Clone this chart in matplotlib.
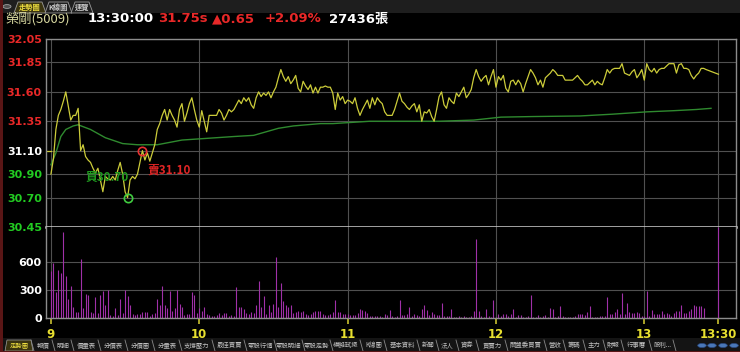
import matplotlib
matplotlib.use("Agg")
import matplotlib.pyplot as plt
import numpy as np
from matplotlib.patches import Rectangle, Circle, Polygon

# ---------------- data ----------------
stock_name = "榮剛(5009)"
quote_time = "13:30:00"
last_price = 31.75
change = 0.65
change_pct = 2.09
total_volume = 27436
prev_close = 31.10

price_ticks = [32.05, 31.85, 31.60, 31.35, 31.10, 30.90, 30.70, 30.45]
volume_ticks = [0, 300, 600]
hour_minutes = [0, 60, 120, 180, 240, 270]
hour_labels = ["9", "10", "11", "12", "13", "13:30"]

# one price per minute from 09:00 (minutes after the open)
prices_0900 = [30.90, 31.03, 31.28, 31.40, 31.45, 31.52, 31.60, 31.48, 31.36, 31.40,
               31.40, 31.46, 31.10, 31.15, 31.05, 31.02, 31.00, 30.95, 30.91, 30.95,
               30.85, 30.75, 30.88, 30.86, 30.85, 30.88, 30.85, 30.93, 31.00, 30.90,
               30.75, 30.70, 30.85, 30.88, 30.86, 30.90, 31.00, 31.10, 31.02, 31.08,
               31.01, 31.08, 31.15, 31.28, 31.33, 31.40, 31.45, 31.36, 31.45, 31.40,
               31.36, 31.30, 31.45, 31.50, 31.35, 31.42, 31.50, 31.55, 31.45, 31.36]
prices_1000 = [31.30, 31.44, 31.35, 31.26, 31.40, 31.40, 31.40, 31.40, 31.45, 31.42,
               31.36, 31.40, 31.45, 31.43, 31.45, 31.49, 31.53, 31.50, 31.55, 31.52,
               31.55, 31.49, 31.46, 31.55, 31.60, 31.56, 31.59, 31.57, 31.60, 31.55,
               31.60, 31.64, 31.72, 31.79, 31.73, 31.69, 31.73, 31.67, 31.70, 31.74,
               31.63, 31.60, 31.69, 31.65, 31.62, 31.66, 31.59, 31.64, 31.59, 31.64,
               31.64, 31.65, 31.64, 31.64, 31.59, 31.45, 31.59, 31.53, 31.56, 31.50]
prices_1100 = [31.53, 31.52, 31.50, 31.55, 31.46, 31.40, 31.45, 31.49, 31.53, 31.46,
               31.55, 31.49, 31.55, 31.52, 31.50, 31.43, 31.40, 31.40, 31.40, 31.45,
               31.52, 31.59, 31.52, 31.50, 31.47, 31.45, 31.48, 31.50, 31.43, 31.49,
               31.35, 31.43, 31.42, 31.45, 31.39, 31.35, 31.45, 31.56, 31.60, 31.49,
               31.46, 31.55, 31.52, 31.50, 31.59, 31.56, 31.60, 31.64, 31.55, 31.58,
               31.62, 31.72, 31.79, 31.73, 31.69, 31.72, 31.74, 31.66, 31.73, 31.79]
prices_1200 = [31.64, 31.73, 31.70, 31.74, 31.63, 31.60, 31.69, 31.70, 31.66, 31.70,
               31.67, 31.60, 31.67, 31.73, 31.79, 31.76, 31.72, 31.66, 31.70, 31.64,
               31.72, 31.74, 31.76, 31.79, 31.77, 31.74, 31.74, 31.74, 31.70, 31.70,
               31.70, 31.70, 31.72, 31.74, 31.71, 31.69, 31.66, 31.66, 31.68, 31.70,
               31.66, 31.69, 31.67, 31.66, 31.72, 31.79, 31.76, 31.79, 31.80, 31.80,
               31.80, 31.84, 31.76, 31.75, 31.74, 31.77, 31.79, 31.72, 31.75, 31.79]
prices_1300 = [31.70, 31.84, 31.79, 31.77, 31.80, 31.76, 31.79, 31.80, 31.80, 31.82,
               31.84, 31.84, 31.84, 31.76, 31.83, 31.84, 31.80, 31.80, 31.79, 31.74,
               31.71, 31.74, 31.76, 31.80, 31.80, 31.79]
close_minute = 270

# average-price line (minute, price)
avg_minutes = [0, 2, 4, 6, 9, 11, 16, 22, 29, 35, 43, 53, 60, 74, 82, 92, 98, 109,
               114, 129, 157, 171, 182, 195, 214, 227, 241, 252, 261, 267]
avg_prices = [30.98, 31.08, 31.22, 31.28, 31.31, 31.32, 31.28, 31.21, 31.16, 31.15,
              31.15, 31.19, 31.20, 31.22, 31.23, 31.29, 31.31, 31.33, 31.33, 31.35,
              31.35, 31.36, 31.385, 31.39, 31.395, 31.41, 31.43, 31.44, 31.45, 31.46]

# one volume per minute from 09:00
volumes_0900 = [510, 590, 280, 520, 490, 930, 455, 210, 340, 120, 60, 60, 635, 105, 260,
                250, 60, 55, 225, 55, 250, 295, 135, 300, 30, 20, 105, 30, 210, 50,
                300, 240, 135, 40, 30, 40, 40, 70, 70, 60, 25, 40, 50, 205, 145,
                340, 145, 105, 295, 80]
volumes_0950 = [105, 305, 150, 115, 30, 40, 45, 275, 245, 55, 105, 80, 115, 45, 30,
                25, 25, 30, 55, 30, 55, 55, 25, 30, 25, 330, 115, 115, 100, 55,
                45, 65, 55, 135, 400, 115, 240, 45, 135, 70, 150, 660, 115, 375, 185,
                145, 115, 135, 55, 70, 80]
volumes_1041 = [65, 80, 45, 30, 40, 65, 75, 80, 80, 40, 30, 30, 40, 65, 195,
                65, 65, 45, 40, 40, 30, 30, 30, 55, 100, 90, 80, 55, 20, 20,
                20, 20, 20, 10, 40, 30, 90, 20, 10, 20, 195, 30, 30, 45, 115,
                20, 45, 30, 20, 100, 145, 90, 30, 65, 45, 30, 30, 165, 20, 20,
                20, 100, 10, 10, 20, 10, 20, 10, 10, 20, 80, 850, 80, 20, 10, 100]
volumes_1157 = [20, 10, 190, 10, 45, 20, 40, 40, 20, 40, 100, 10, 35, 35, 10,
                10, 20, 245, 10, 10, 35, 10, 20, 35, 10, 110, 100, 10, 20, 125,
                20, 10, 10, 10, 10, 20, 40, 40, 40, 30, 65, 125, 10, 10, 10,
                20, 20, 20, 225, 45, 45, 65, 100, 45, 265, 45, 165, 65, 55, 55,
                65, 55, 20, 20, 295, 20, 90, 40, 45, 45, 75, 40, 55, 45, 20,
                55, 80, 80, 145, 55, 55, 75, 100, 135, 125, 125, 125, 110]
close_volume = 980

low_minute, low_price = 31, 30.70
high_minute, high_price = 37, 31.10

# ---------------- derived ----------------
prices = prices_0900 + prices_1000 + prices_1100 + prices_1200 + prices_1300
price_t = list(range(len(prices))) + [close_minute]
price_v = prices + [last_price]
volumes = volumes_0900 + volumes_0950 + volumes_1041 + volumes_1157
vol_t = list(range(len(volumes))) + [close_minute]
vol_v = volumes + [close_volume]

# ---------------- figure ----------------
W, H = 740, 352
def fx(x): return x / W
def fy(y): return 1 - y / H

CJK = ["Noto Sans CJK TC", "DejaVu Sans"]
RED = "#e82828"
GREEN = "#22cc22"
GRID = "#505050"
FRAME = "#8c8c8c"

fig = plt.figure(figsize=(7.4, 3.52), dpi=100, facecolor="black")

# background strips
fig.patches.append(Rectangle((0, fy(13)), 1, 13 / H, transform=fig.transFigure,
                             facecolor="#1e1e1e", edgecolor="none", zorder=0))
fig.patches.append(Rectangle((0, 0), 1, 14 / H, transform=fig.transFigure,
                             facecolor="#141414", edgecolor="none", zorder=0))
fig.patches.append(Rectangle((0, 0), 2.5 / W, 1, transform=fig.transFigure,
                             facecolor="#5a1616", edgecolor="none", zorder=3))
fig.patches.append(Rectangle((0, 0), 1, 1.5 / H, transform=fig.transFigure,
                             facecolor="#5a1616", edgecolor="none", zorder=3))

# top tabs
fig.patches.append(Circle((fx(7), fy(6.5)), 4 / W, transform=fig.transFigure,
                          facecolor="#505050", edgecolor="#a0a0a0", lw=0.6))
tabs_top = [("走勢圖", 14, 46, "#f0e040", "#3a3410"), ("K線圖", 45, 72, "#c8c8c8", "#1e1e1e"),
            ("速覽", 71, 93, "#c8c8c8", "#1e1e1e")]
for name, x0, x1, tc, bg in tabs_top:
    poly = Polygon([(fx(x0), fy(13)), (fx(x0 + 4), fy(2)), (fx(x1 - 4), fy(2)), (fx(x1), fy(13))],
                   closed=True, transform=fig.transFigure, facecolor=bg, edgecolor="#9a9a9a", lw=0.6)
    fig.patches.append(poly)
    fig.text(fx((x0 + x1) / 2), fy(7.5), name, color=tc, fontsize=5.2, family=CJK,
             ha="center", va="center", weight="bold")

# header quote line
yq = fy(19)
fig.text(fx(5), yq, stock_name, color="#d8d8a0", fontsize=9.5, family=CJK, va="center")
fig.text(fx(88), yq, quote_time, color="white", fontsize=9.5, weight="bold", va="center")
fig.text(fx(158), yq, f"{last_price:.2f}s", color=RED, fontsize=9.5, weight="bold", va="center")
fig.text(fx(212), yq, f"▲{change:.2f}", color=RED, fontsize=9.5, weight="bold", va="center")
fig.text(fx(265), yq, f"+{change_pct:.2f}%", color=RED, fontsize=9.5, weight="bold", va="center")
fig.text(fx(329), yq, f"{total_volume}張", color="white", fontsize=9.5, weight="bold",
         va="center", family=["DejaVu Sans", "Noto Sans CJK TC"])

xmin, xmax = -2.0, 277.1

# ---------------- price panel ----------------
ax1 = fig.add_axes([fx(46), fy(227), 690 / W, 188 / H], facecolor="black")
ax1.set_xlim(xmin, xmax)
ax1.set_ylim(price_ticks[-1], price_ticks[0])
ax1.set_yticks(price_ticks)
ax1.set_yticklabels([f"{p:.2f}" for p in price_ticks])
for lbl, p in zip(ax1.get_yticklabels(), price_ticks):
    lbl.set_color(RED if p > prev_close + 1e-9 else ("white" if abs(p - prev_close) < 1e-9 else GREEN))
    lbl.set_fontweight("bold")
ax1.set_xticks(hour_minutes)
ax1.tick_params(axis="both", length=0, labelsize=8, pad=3, labelbottom=False)
ax1.grid(True, color=GRID, lw=0.8)
ax1.set_axisbelow(True)
for s in ["top", "left", "right"]:
    ax1.spines[s].set_color(FRAME)
    ax1.spines[s].set_linewidth(1.0)
ax1.spines["bottom"].set_color("#d0d0d0")
ax1.spines["bottom"].set_linewidth(1.8)

ax1.plot([xmin, 0], [prev_close, prev_close], color="#cccc3a", lw=0.9)
ax1.plot(avg_minutes, avg_prices, color="#2f8a2f", lw=1.0)
ax1.plot(price_t, price_v, color="#cccc3a", lw=0.9)

ax1.plot([low_minute], [low_price], "o", mfc="none", mec="#40cc40", ms=6, mew=1.2)
ax1.plot([high_minute], [high_price], "o", mfc="none", mec="#e83030", ms=6, mew=1.2)
ax1.annotate(f"買{low_price:.2f}", xy=(low_minute, low_price), xytext=(-42, 20),
             textcoords="offset pixels", color="#1f9a1f", fontsize=8.5, weight="bold",
             family=CJK, ha="left", va="center")
ax1.annotate(f"賣{high_price:.2f}", xy=(high_minute, high_price), xytext=(5, -19),
             textcoords="offset pixels", color="#e02525", fontsize=8.5, weight="bold",
             family=CJK, ha="left", va="center")

# ---------------- volume panel ----------------
ax2 = fig.add_axes([fx(46), fy(318), 690 / W, 91 / H], facecolor="black")
ax2.set_xlim(xmin, xmax)
ax2.set_ylim(0, 980)
ax2.vlines(vol_t, 0, vol_v, color="#a030a8", lw=0.8)
ax2.set_yticks(volume_ticks)
ax2.set_yticklabels([str(v) for v in volume_ticks])
for lbl in ax2.get_yticklabels():
    lbl.set_color("white")
    lbl.set_fontweight("bold")
ax2.tick_params(axis="y", length=0, labelsize=8, pad=3)
ax2.set_xticks(hour_minutes)
ax2.set_xticklabels(hour_labels)
for lbl in ax2.get_xticklabels():
    lbl.set_color("#e8e030")
    lbl.set_fontweight("bold")
ax2.tick_params(axis="x", length=4, width=1.2, color="#c8c030", labelsize=8.5, pad=3)
ax2.grid(True, color=GRID, lw=0.8)
ax2.set_axisbelow(True)
ax2.spines["top"].set_visible(False)
for s in ["bottom", "left", "right"]:
    ax2.spines[s].set_color(FRAME)
    ax2.spines[s].set_linewidth(1.0)

# ---------------- bottom tabs ----------------
bottom_tabs = [("走勢圖", 5, 31), ("報價", 33, 52), ("明細", 53, 71), ("價量表", 72, 98),
               ("分價表", 99, 125), ("分價圖", 126, 152), ("分量表", 153, 179),
               ("支撐壓力", 180, 212), ("最佳買賣", 213, 244), ("零股行情", 245, 274),
               ("零股明細", 274, 302), ("零股走勢", 302, 330), ("模擬試撮", 330, 360),
               ("K線圖", 361, 384), ("基本資料", 385, 417), ("新聞", 418, 436),
               ("法人", 437, 456), ("資券", 457, 476), ("買賣力", 477, 505),
               ("關盤委買賣", 505, 544), ("營收", 545, 563), ("籌碼", 564, 583),
               ("主力", 584, 603), ("財報", 603, 621), ("行事曆", 622, 649), ("股利...", 650, 673)]
for i, (name, x0, x1) in enumerate(bottom_tabs):
    if i == 0:
        fig.patches.append(Polygon([(fx(x0), fy(351)), (fx(x0 + 2), fy(340)), (fx(x1), fy(340)),
                                    (fx(x1 + 2), fy(351))], closed=True, transform=fig.transFigure,
                                   facecolor="#3a3410", edgecolor="#a0a0a0", lw=0.5))
    fig.text(fx((x0 + x1) / 2 + 1), fy(345.5), name, color="#f0e040" if i == 0 else "#c0c0c0",
             fontsize=4.6, family=CJK, ha="center", va="center")
    fig.lines.append(plt.Line2D([fx(x1), fx(x1 + 3)], [fy(340), fy(351)],
                                transform=fig.transFigure, color="#8a8a8a", lw=0.6))
for cx in [702, 712, 723, 734]:
    fig.patches.append(Circle((fx(cx), fy(345.5)), 4.3 / W, transform=fig.transFigure,
                              facecolor="#4a78b8", edgecolor="#2a4a80", lw=0.5))

fig.savefig("out.png", dpi=100, facecolor="black")
